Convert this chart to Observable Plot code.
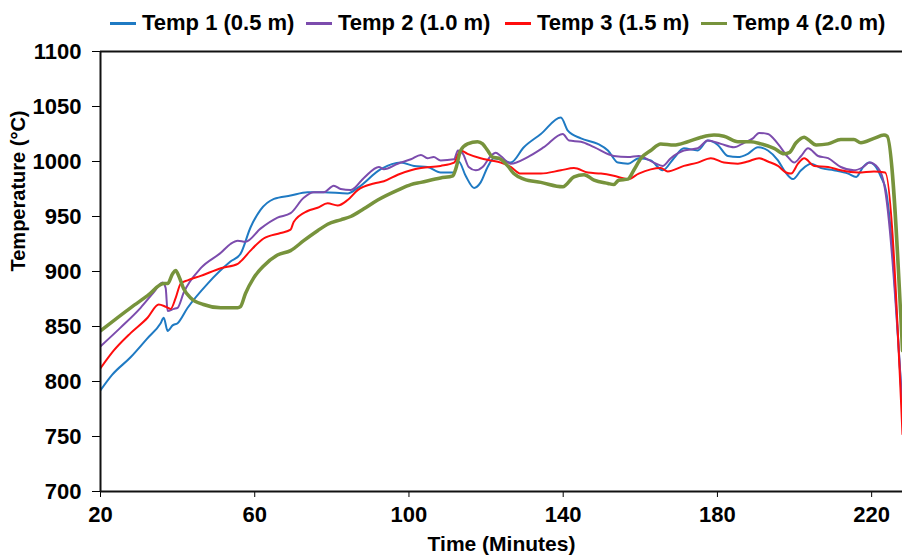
<!DOCTYPE html>
<html><head><meta charset="utf-8">
<script src="https://cdn.jsdelivr.net/npm/d3@7"></script>
<script src="https://cdn.jsdelivr.net/npm/@observablehq/plot@0.6"></script>
<style>
body{margin:0;background:#fff;}
#wrap{position:relative;width:902px;height:556px;font-family:Arial,"Liberation Sans",sans-serif;}
#wrap svg{position:absolute;left:0;top:0;}
#legend{position:absolute;left:0;top:9px;width:902px;height:28px;font-weight:bold;font-size:22px;white-space:nowrap;color:#000;z-index:2;}
.item{position:absolute;top:0;display:flex;align-items:center;height:28px;}
.sw{width:26px;height:3px;margin-right:6px;}
</style></head><body>
<div id="wrap"><div id="legend"></div></div>
<script>
const seriesNames = ["Temp 1 (0.5 m)", "Temp 2 (1.0 m)", "Temp 3 (1.5 m)", "Temp 4 (2.0 m)"];
const seriesColors = ["#1f7ac3", "#7c4cad", "#ff0d0d", "#77933c"];
const seriesWidths = [2, 2, 2, 3.5];
const legendLefts = [110, 306, 505, 701];
const xTicks = [20, 60, 100, 140, 180, 220];
const yTicks = [700, 750, 800, 850, 900, 950, 1000, 1050, 1100];
const xLabel = "Time (Minutes)";
const yLabel = "Temperature (°C)";

const temp1 = [[20,792],[23,806],[27.8,822],[32.1,839],[35.6,853],[36.4,858],[37.4,846],[38.7,851],[40,853],[42.6,867],[47.8,889],[53.7,909],[56.3,916],[58.9,940],[61.5,956],[65,966],[69.3,969],[73.7,972],[77.9,972],[84.1,971],[86.7,976],[92.7,993],[97.9,999],[101.3,996],[104.8,995],[108.2,990],[111.7,990],[112.9,1000],[114.7,987],[116.9,976],[118.6,981],[120.4,995],[122,1003],[124.6,1001],[126.4,999],[129.8,1013],[134.2,1025],[139.4,1040],[141.2,1028],[144.6,1021],[149,1016],[151.6,1010],[154.2,999],[156.8,998],[159.6,1003],[162.7,1001],[165.8,992],[168.7,1003],[171.3,1012],[174.9,1010],[177.5,1019],[180.1,1015],[182.7,1005],[185.3,1004],[187.9,1007],[190.5,1013],[193.1,1010],[195.7,1001],[197.3,992],[199.6,984],[201.7,992],[204.3,998],[206.9,994],[210.2,992],[213.9,989],[216,986],[217.8,995],[219.4,999],[221.1,995],[222.4,986],[223.7,974],[228,770]];
const temp2 = [[20,832],[25.2,849],[30.4,867],[33.8,881],[36.1,890],[36.9,885],[37.4,864],[39,866],[40,867],[41.6,881],[46,903],[51.2,917],[53.7,925],[55.6,928],[57.6,927],[61.5,939],[65.9,949],[69.3,953],[72.7,967],[75.3,972],[77.9,972],[80.5,978],[82.3,975],[84.9,974],[88.3,985],[92.2,995],[93.5,993],[97.1,998],[100.5,1002],[103.1,1006],[104.8,1003],[106.4,1004],[108.2,1001],[111.7,1002],[112.7,1010],[114,1007],[115.5,995],[117.3,992],[119.1,995],[121.2,1005],[122.5,1008],[123.8,1005],[126.4,998],[130.8,1004],[135,1013],[139.9,1025],[141.5,1019],[144.6,1018],[148,1013],[153.1,1005],[156.8,1004],[159.6,1005],[163.5,999],[165.8,996],[167.9,1003],[171.3,1010],[174.9,1012],[177.5,1019],[180.9,1016],[184.3,1013],[186.9,1017],[189.2,1021],[190.8,1026],[193.1,1025],[195.7,1016],[198.3,1004],[199.9,999],[201.7,1005],[203.5,1012],[206.1,1005],[208.7,1003],[212,995],[215.4,992],[217.8,995],[219.4,999],[221.7,994],[223.2,980],[228,776]];
const temp3 = [[20,812],[23.4,828],[27.8,844],[32.2,858],[35.1,870],[36.9,868],[38.2,866],[39.5,876],[40.8,889],[42.6,892],[46,896],[51.2,903],[55.6,907],[56.3,909],[58.9,919],[62.3,930],[66.7,935],[69.3,938],[70.1,945],[73.7,955],[76.3,958],[78.9,962],[81.5,960],[84.1,965],[86.7,974],[90.9,980],[93.5,982],[97.1,988],[100.5,992],[103.1,994],[108.2,996],[111.7,999],[113.4,1010],[115.2,1007],[118.6,1003],[121.2,1001],[123.8,999],[126.4,995],[129,989],[134.2,989],[139.4,992],[142.8,994],[146.4,990],[149.8,989],[153.1,987],[156.8,984],[159.6,989],[165.3,994],[167.1,991],[171.3,996],[174.9,999],[178.3,1003],[181.7,999],[185.3,998],[187.9,1000],[190.8,1003],[193.1,1000],[195.7,996],[197.8,990],[199.1,989],[200.9,998],[202.5,1003],[205.1,996],[208.7,995],[212,992],[216.5,990],[220.6,991],[223.5,990],[228,752]];
const temp4 = [[20,846],[27.8,867],[32.2,878],[36.4,889],[37.4,889],[38.7,898],[39.5,901],[40.3,896],[41.6,884],[43.4,876],[46.7,870],[51.2,867],[55.6,867],[56.3,868],[57.6,880],[59.7,894],[62.3,905],[65.9,915],[69.3,919],[72.7,928],[76.3,937],[78.9,943],[82.3,947],[84.9,950],[88.3,957],[91.9,965],[97.1,974],[100.5,979],[103.1,981],[108.2,985],[111.4,987],[112.2,994],[113.4,1010],[115.2,1016],[117.8,1018],[119.1,1016],[120.4,1010],[121.7,1004],[123.3,1003],[125.6,996],[127.2,989],[129.8,984],[134.2,981],[139.9,977],[142.8,986],[145.4,988],[148,983],[151.6,980],[153.1,979],[154.4,983],[156.8,984],[158.3,992],[160.2,1003],[162.7,1010],[165.3,1016],[168.7,1015],[172.3,1018],[175.8,1022],[179.1,1024],[181.7,1023],[185.3,1018],[188.7,1018],[191.3,1016],[194.7,1012],[197.3,1007],[198.6,1008],[200.4,1017],[202.5,1022],[203.5,1020],[205.6,1015],[208.7,1016],[212,1020],[215.4,1020],[217.2,1017],[220.6,1021],[223.2,1024],[224,1023],[228,828]];

const allSeries = [temp1, temp2, temp3, temp4];
const fontFam = 'Arial, "Liberation Sans", sans-serif';

const lineMarks = allSeries.map((s, i) =>
  Plot.line(s.map(([t, v]) => ({t, v})), {
    x: "t", y: "v", stroke: seriesColors[i], strokeWidth: seriesWidths[i],
    curve: "monotone-x", clip: true
  })
);

const chart = Plot.plot({
  width: 902, height: 556,
  marginLeft: 100, marginRight: 0, marginTop: 51, marginBottom: 65,
  x: {domain: [20, 228]},
  y: {domain: [700, 1100]},
  style: {fontFamily: fontFam, fontSize: "22px", fontWeight: "bold", color: "#000", background: "transparent"},
  marks: [
    Plot.axisY({ticks: yTicks, tickSize: 8, tickPadding: 11, tickFormat: d => String(d), label: null, fontSize: 22, fontWeight: "bold"}),
    Plot.axisX({ticks: xTicks, tickSize: 6, tickPadding: 9, tickFormat: d => String(d), label: null, fontSize: 22, fontWeight: "bold"}),
    Plot.text([yLabel], {frameAnchor: "left", dx: -82, rotate: -90, fontSize: 20, fontWeight: "bold", fill: "#000"}),
    Plot.text([xLabel], {frameAnchor: "bottom", dy: 59, fontSize: 21, fontWeight: "bold", fill: "#000"}),
    ...lineMarks,
    Plot.ruleY([700, 1100], {stroke: "#111", strokeWidth: 2}),
    Plot.ruleX([20], {stroke: "#111", strokeWidth: 2})
  ]
});
document.getElementById("wrap").appendChild(chart);

const legend = document.getElementById("legend");
seriesNames.forEach((name, i) => {
  const item = document.createElement("div");
  item.className = "item";
  item.style.left = legendLefts[i] + "px";
  const sw = document.createElement("span");
  sw.className = "sw";
  sw.style.background = seriesColors[i];
  const tx = document.createElement("span");
  tx.textContent = name;
  item.appendChild(sw);
  item.appendChild(tx);
  legend.appendChild(item);
});
</script>
</body></html>
